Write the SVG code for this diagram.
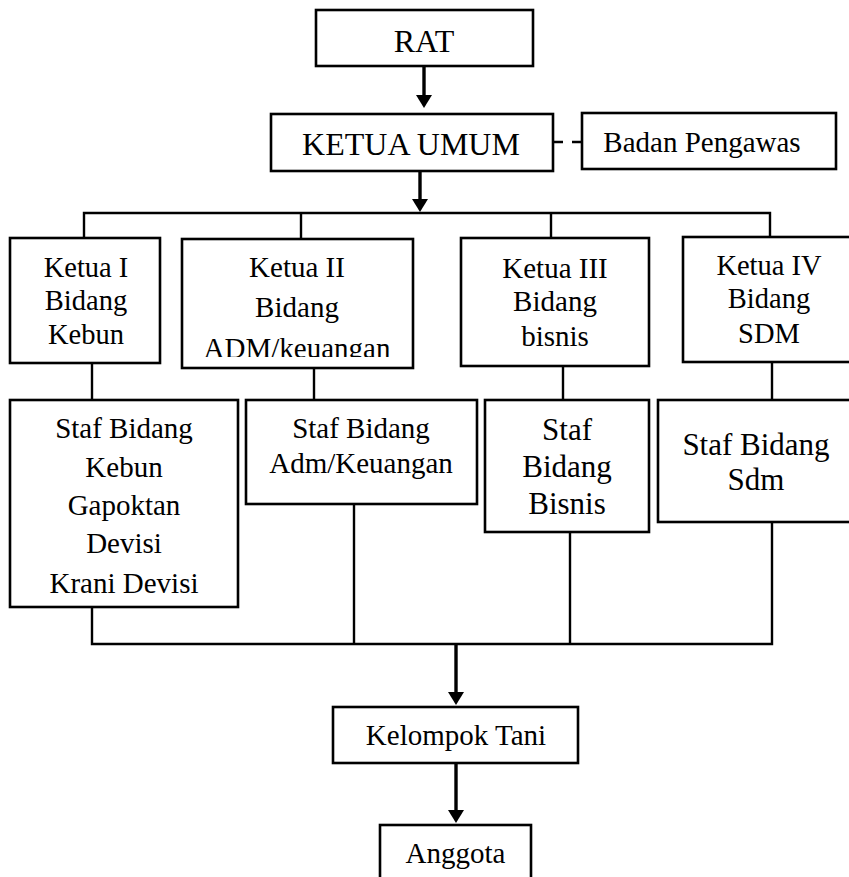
<svg xmlns="http://www.w3.org/2000/svg" width="849" height="877" viewBox="0 0 849 877">
<style>
.box{fill:#fff;stroke:#000;stroke-width:2.6}
.ln{fill:none;stroke:#000;stroke-width:2.4}
.ar{fill:none;stroke:#000;stroke-width:3.4}
.dash{fill:none;stroke:#000;stroke-width:2.4;stroke-dasharray:10 9}
text{fill:#000;text-anchor:middle;font-family:'Liberation Serif','Times New Roman',serif}
.s32{font-size:32px}.s31{font-size:31px}.s29{font-size:29px}.s28{font-size:28.5px}
</style>
<defs>
<marker id="ah" viewBox="0 0 13 16" markerWidth="13" markerHeight="16" refX="0" refY="8" orient="auto" markerUnits="userSpaceOnUse">
<path d="M0,0 L13,8 L0,16 z" fill="#000"/>
</marker>
<clipPath id="clipK2"><rect x="182" y="239" width="231" height="118"/></clipPath>
</defs>
<rect width="849" height="877" fill="#fff"/>
<g id="connectors">
<line class="ar" x1="424" y1="66" x2="424" y2="95" marker-end="url(#ah)"/>
<line class="dash" x1="553" y1="142" x2="582" y2="142"/>
<line class="ar" x1="420" y1="171" x2="420" y2="199" marker-end="url(#ah)"/>
<polyline class="ln" points="84,238 84,213 770,213 770,237"/>
<line class="ln" x1="301" y1="213" x2="301" y2="239"/>
<line class="ln" x1="551" y1="213" x2="551" y2="238"/>
<line class="ln" x1="92" y1="363" x2="92" y2="400"/>
<line class="ln" x1="314" y1="368" x2="314" y2="400"/>
<line class="ln" x1="563" y1="366" x2="563" y2="400"/>
<line class="ln" x1="772" y1="362" x2="772" y2="400"/>
<polyline class="ln" points="92,607 92,644 772,644 772,522"/>
<line class="ln" x1="354" y1="504" x2="354" y2="644"/>
<line class="ln" x1="570" y1="532" x2="570" y2="644"/>
<line class="ar" x1="456" y1="644" x2="456" y2="692" marker-end="url(#ah)"/>
<line class="ar" x1="456" y1="763" x2="456" y2="810" marker-end="url(#ah)"/>
</g>
<g id="nodes" font-family="Liberation Serif, Times New Roman, serif">
<g id="rat"><rect class="box" x="316" y="10" width="217" height="56"/><text class="s32" x="424" y="52">RAT</text></g>
<g id="ketua-umum"><rect class="box" x="271" y="114" width="282" height="57"/><text class="s32" x="411" y="155">KETUA UMUM</text></g>
<g id="badan-pengawas"><rect class="box" x="582" y="113" width="254" height="56"/><text class="s29" x="702" y="152">Badan Pengawas</text></g>
<g id="ketua-1"><rect class="box" x="10" y="238" width="150" height="125"/><text class="s28" x="86"><tspan x="86" y="277">Ketua I</tspan><tspan x="86" y="310">Bidang</tspan><tspan x="86" y="344">Kebun</tspan></text></g>
<g id="ketua-2"><rect class="box" x="182" y="239" width="231" height="129"/><text class="s29" x="297" clip-path="url(#clipK2)"><tspan x="297" y="277">Ketua II</tspan><tspan x="297" y="317">Bidang</tspan><tspan x="297" y="358">ADM/keuangan</tspan></text></g>
<g id="ketua-3"><rect class="box" x="461" y="238" width="188" height="128"/><text class="s29" x="555"><tspan x="555" y="278">Ketua III</tspan><tspan x="555" y="311">Bidang</tspan><tspan x="555" y="346">bisnis</tspan></text></g>
<g id="ketua-4"><rect class="box" x="683" y="237" width="172" height="125"/><text class="s28" x="769"><tspan x="769" y="275">Ketua IV</tspan><tspan x="769" y="308">Bidang</tspan><tspan x="769" y="343">SDM</tspan></text></g>
<g id="staf-kebun"><rect class="box" x="10" y="400" width="228" height="207"/><text class="s29" x="124"><tspan x="124" y="438">Staf Bidang</tspan><tspan x="124" y="477">Kebun</tspan><tspan x="124" y="515">Gapoktan</tspan><tspan x="124" y="553">Devisi</tspan><tspan x="124" y="593">Krani Devisi</tspan></text></g>
<g id="staf-adm"><rect class="box" x="246" y="400" width="231" height="104"/><text class="s29" x="361"><tspan x="361" y="438">Staf Bidang</tspan><tspan x="361" y="473">Adm/Keuangan</tspan></text></g>
<g id="staf-bisnis"><rect class="box" x="485" y="400" width="164" height="132"/><text class="s31" x="567"><tspan x="567" y="440">Staf</tspan><tspan x="567" y="477">Bidang</tspan><tspan x="567" y="514">Bisnis</tspan></text></g>
<g id="staf-sdm"><rect class="box" x="658" y="400" width="197" height="122"/><text class="s31" x="756"><tspan x="756" y="455">Staf Bidang</tspan><tspan x="756" y="490">Sdm</tspan></text></g>
<g id="kelompok-tani"><rect class="box" x="333" y="707" width="245" height="56"/><text class="s29" x="456" y="745">Kelompok Tani</text></g>
<g id="anggota"><rect class="box" x="380" y="825" width="151" height="75"/><text class="s29" x="455.5" y="863">Anggota</text></g>
</g>
</svg>
